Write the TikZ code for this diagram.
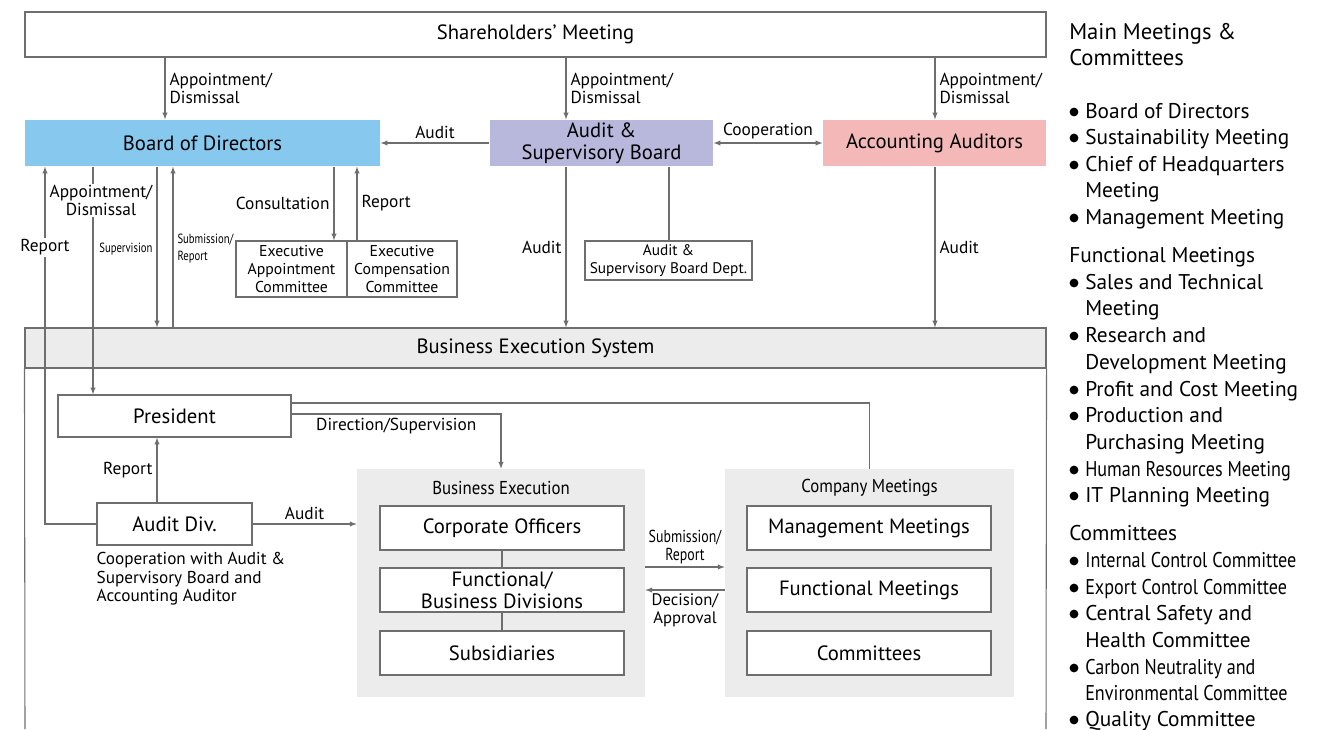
\documentclass[tikz,border=0pt]{standalone}
\usepackage{fontspec}
\setmainfont{PT Sans}
\newfontfamily\narrowfont[FakeStretch=0.8]{PT Sans}
\newfontfamily\listnarrowfont[FakeStretch=0.85]{PT Sans}
\newfontfamily\titlenarrowfont[FakeStretch=0.9]{PT Sans}
\usetikzlibrary{positioning}
\definecolor{linegray}{HTML}{6E6E6E}
\definecolor{boardblue}{HTML}{86C8EE}
\definecolor{auditlav}{HTML}{B8B8DC}
\definecolor{auditpink}{HTML}{F5B8B8}
\definecolor{panelgray}{HTML}{EBECEB}

\begin{document}
\begin{tikzpicture}[
    x=0.75pt,y=-0.75pt,>=latex,
    box/.style={draw=linegray,line width=.8pt,align=center,inner sep=1pt,
        font={\fontsize{15.5}{16.5}\selectfont}},
    smallbox/.style={box,font={\fontsize{11.8}{13.5}\selectfont}},
    panel/.style={fill=panelgray,inner sep=0pt},
    paneltitle/.style={font={\titlenarrowfont\fontsize{14}{16}\selectfont}},
    conn/.style={draw=linegray,line width=.8pt},
    lbl/.style={font={\fontsize{13}{13.5}\selectfont},align=left,
        text=black,inner sep=3pt},
    tinylbl/.style={font={\narrowfont\fontsize{10}{13}\selectfont},align=left,
        text=black,inner sep=3pt},
    midlbl/.style={font={\narrowfont\fontsize{13}{13.5}\selectfont},
        align=center,text=black,inner sep=2pt},
    legend/.style={anchor=west,inner sep=0pt,text height=11pt,text depth=2pt,
        font={\fontsize{16}{16}\selectfont}},
    legendnarrow/.style={legend,font={\listnarrowfont\fontsize{16}{16}\selectfont}},
    ]
    \useasboundingbox (0,0) rectangle (1329,729);
    % Top level bodies
    \node[box,minimum width=765.75pt,minimum height=33.75pt]
        (share) at (535.5,34.5) {Shareholders' Meeting};
    \node[box,draw=none,fill=boardblue,minimum width=266.25pt,minimum height=34.5pt]
        (board) at (202.5,143) {Board of Directors};
    \node[box,draw=none,fill=auditlav,minimum width=167.25pt,minimum height=34.5pt]
        (asb) at (601.5,143) {Audit \&\\Supervisory Board};
    \node[box,draw=none,fill=auditpink,minimum width=167.25pt,minimum height=34.5pt]
        (acc) at (934.5,143) {Accounting Auditors};
    % Committees under the board
    \node[smallbox,minimum width=83.25pt,minimum height=42pt]
        (eac) at (291.5,269) {Executive\\Appointment\\Committee};
    \node[smallbox,minimum width=82.5pt,minimum height=42pt]
        (ecc) at (402,269) {Executive\\Compensation\\Committee};
    \node[smallbox,font={\fontsize{11.5}{13.5}\selectfont},
        minimum width=125.25pt,minimum height=29.25pt]
        (asbdept) at (668.5,260.5) {Audit \&\\Supervisory Board Dept.};
    % Business execution system
    \node[box,fill=panelgray,minimum width=765.75pt,minimum height=30pt]
        (bes) at (535.5,348) {Business Execution System};
    \draw[conn] (bes.south west) -- (25,729);
    \draw[conn] (bes.south east) -- (1046,729);
    \node[box,minimum width=174.75pt,minimum height=31.5pt]
        (pres) at (174.5,416) {President};
    \node[box,minimum width=116.25pt,minimum height=31.5pt]
        (adiv) at (174.5,524) {Audit Div.};
    \node[anchor=north west,align=left,inner sep=0pt,
        font={\fontsize{12.9}{13.8}\selectfont}]
        (adivnote) at ([yshift=-5pt]adiv.south west)
        {Cooperation with Audit \&\\Supervisory Board and\\Accounting Auditor};
    % Business execution panel
    \node[panel,minimum width=216pt,minimum height=171pt] (exec) at (501,583) {};
    \node[paneltitle] (exectitle) at ([yshift=-14.25pt]exec.north) {Business Execution};
    \node[box,fill=white,minimum width=183pt,minimum height=33pt]
        (officers) at (502,528) {Corporate Officers};
    \node[box,fill=white,minimum width=183pt,minimum height=33pt]
        (divisions) at (502,590) {Functional/\\Business Divisions};
    \node[box,fill=white,minimum width=183pt,minimum height=33pt]
        (subs) at (502,653) {Subsidiaries};
    % Company meetings panel
    \node[panel,minimum width=216.75pt,minimum height=171pt] (meet) at (869.5,583) {};
    \node[paneltitle] (meettitle) at ([yshift=-14.25pt]meet.north) {Company Meetings};
    \node[box,fill=white,minimum width=183pt,minimum height=33pt]
        (mgmt) at (869,528) {Management Meetings};
    \node[box,fill=white,minimum width=183pt,minimum height=33pt]
        (func) at (869,590) {Functional Meetings};
    \node[box,fill=white,minimum width=183pt,minimum height=33pt]
        (cmte) at (869,653) {Committees};
    % Appointment by shareholders
    \draw[conn,->] (165,0 |- share.south) -- (165,0 |- board.north)
        node[lbl,right,midway] {Appointment/\\Dismissal};
    \draw[conn,->] (566,0 |- share.south) -- (566,0 |- asb.north)
        node[lbl,right,midway] {Appointment/\\Dismissal};
    \draw[conn,->] (935,0 |- share.south) -- (935,0 |- acc.north)
        node[lbl,right,midway] {Appointment/\\Dismissal};
    % Audit and cooperation between the bodies
    \draw[conn,->] (asb.west) -- (board.east) node[lbl,above,midway] {Audit};
    \draw[conn,<->] (asb.east) -- (acc.west) node[lbl,above,midway] {Cooperation};
    % Board to execution
    \draw[conn,->] (93,0 |- board.south) -- (93,0 |- pres.north)
        node[lbl,align=center,fill=white,pos=.15,xshift=6pt,inner sep=1pt]
        {Appointment/\\Dismissal};
    \draw[conn,->] (157,0 |- board.south) -- (157,0 |- bes.north)
        node[tinylbl,left,pos=.51] {Supervision};
    \draw[conn,->] (173,0 |- bes.north) -- (173,0 |- board.south)
        node[tinylbl,right,pos=.49] {Submission/\\Report};
    \draw[conn,->] (adiv.west) -| (45,0 |- board.south)
        node[lbl,fill=white,pos=.887,inner sep=1pt] {Report};
    % Board committees
    \draw[conn,->] (334,0 |- board.south) -- (334,0 |- eac.north)
        node[lbl,left,midway] {Consultation};
    \draw[conn,->] (357,0 |- ecc.north) -- (357,0 |- board.south)
        node[lbl,right,midway] {Report};
    % Audit by the board and the auditors
    \draw[conn,->] (566,0 |- asb.south) -- (566,0 |- bes.north)
        node[lbl,left,midway] {Audit};
    \draw[conn] (669,0 |- asb.south) -- (669,0 |- asbdept.north);
    \draw[conn,->] (935,0 |- acc.south) -- (935,0 |- bes.north)
        node[lbl,right,midway] {Audit};
    % President and audit division
    \draw[conn] (pres.east |- 0,403) -| (meet.north);
    \draw[conn,->] (pres.east |- 0,414) -| (exec.north)
        node[lbl,below,pos=.25] {Direction/Supervision};
    \draw[conn,->] (157,0 |- adiv.north) -- (157,0 |- pres.south)
        node[lbl,left,midway] {Report};
    \draw[conn,->] (adiv.east) -- (exec.west |- adiv.east)
        node[lbl,above,midway] {Audit};
    % Execution chain
    \draw[conn] (officers) -- (divisions) -- (subs);
    % Between the panels
    \draw[conn,->] (exec.east |- 0,567) -- (meet.west |- 0,567)
        node[midlbl,above,midway] {Submission/\\Report};
    \draw[conn,->] (meet.west |- 0,590) -- (exec.east |- 0,590)
        node[midlbl,font={\fontsize{12.5}{13.5}\selectfont},below,midway]
        {Decision/\\Approval};
    % List of meetings and committees
    \node[legend,font={\fontsize{17}{16}\selectfont}] (hmain) at (1069,33) {Main Meetings \&};
    \node[legend,font={\fontsize{17}{16}\selectfont}] (hmain2) at (1069,59) {Committees};
    \node[legend] (hfunc) at (1069,256) {Functional Meetings};
    \node[legend] (hcmte) at (1069,534) {Committees};
    \foreach \y in {112,138,165,218,283,336,390,416,470,496,561,588,614,668,720}
        \fill (1074,\y) circle (3.3pt);
    \foreach \y/\t in {112/Board of Directors,138/Sustainability Meeting,
        165/Chief of Headquarters,191/Meeting,218/Management Meeting,
        283/Sales and Technical,309/Meeting,336/Research and,
        363/Development Meeting,390/Profit and Cost Meeting,416/Production and,
        443/Purchasing Meeting,496/IT Planning Meeting,614/Central Safety and,
        641/Health Committee,720/Quality Committee}
        \node[legend] at (1085,\y) {\t};
    \foreach \y/\t in {470/Human Resources Meeting,561/Internal Control Committee,
        588/Export Control Committee,668/Carbon Neutrality and,
        694/Environmental Committee}
        \node[legendnarrow] at (1085,\y) {\t};
\end{tikzpicture}
\end{document}
